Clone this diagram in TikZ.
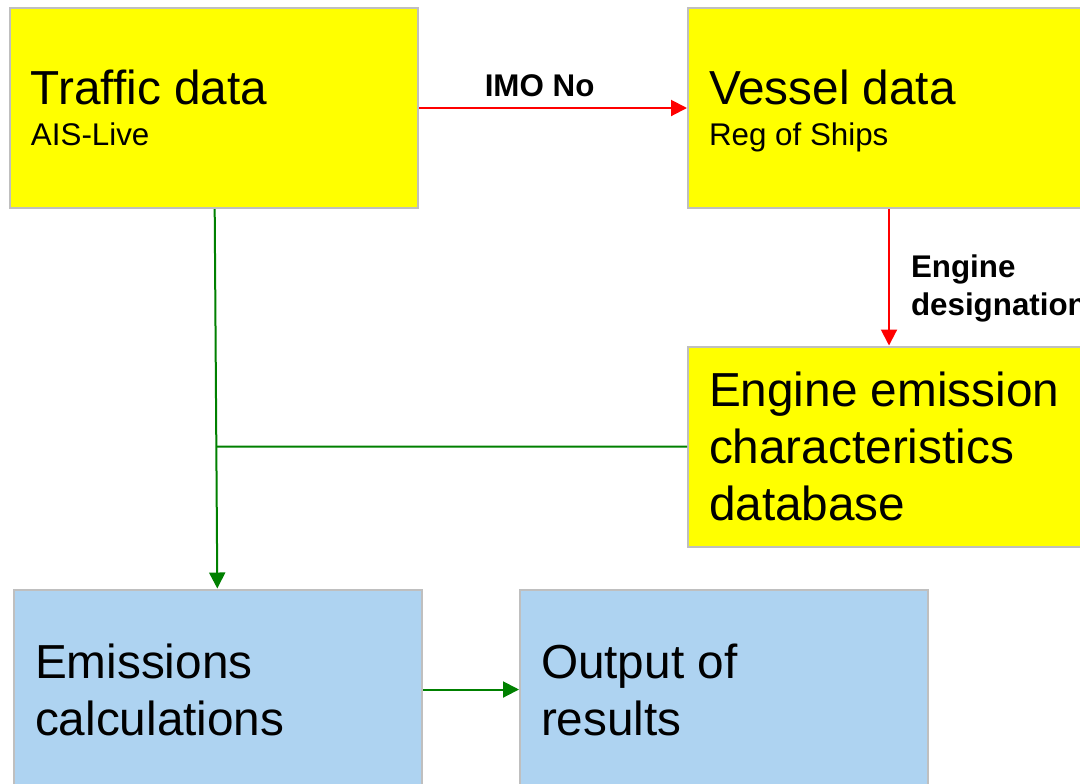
\documentclass[tikz,border=0pt]{standalone}
\usepackage{fontspec}
\setmainfont{Liberation Sans}
\usetikzlibrary{arrows.meta,calc}
\definecolor{box_yellow}{RGB}{255, 255, 0}
\definecolor{box_blue}{RGB}{174, 211, 241}
\definecolor{box_edge}{RGB}{191, 191, 191}
\definecolor{link_red}{RGB}{255, 0, 0}
\definecolor{link_green}{RGB}{0, 128, 0}
\tikzstyle{box}=[rectangle,draw=box_edge,line width=1.5pt,inner xsep=15.75pt,inner ysep=0pt,
  minimum height=150pt,align=flush left,font=\fontsize{35.8}{42.75}\selectfont]
\tikzstyle{yl}=[box,fill=box_yellow,minimum width=301.5pt,text width=270pt]
\tikzstyle{yw}=[box,fill=box_yellow,minimum width=306pt,text width=274.5pt]
\tikzstyle{bl}=[box,fill=box_blue,minimum width=306pt,text width=274.5pt]
\tikzstyle{sub}=[font=\fontsize{23.5}{30.75}\selectfont,text depth=30.75pt]
\tikzstyle{lbl}=[font=\bfseries\fontsize{23.5}{28.5}\selectfont,inner sep=0pt,align=flush left]
\tikzstyle{rl}=[draw=link_red,line width=1.5pt,-{Triangle[length=12pt,width=12pt]}]
\tikzstyle{gl}=[draw=link_green,line width=1.5pt,-{Triangle[length=12pt,width=12pt]}]
\tikzstyle{gp}=[draw=link_green,line width=1.5pt]
\begin{document}
\begin{tikzpicture}[x=0.75pt,y=-0.75pt]
        \useasboundingbox (0,0) rectangle (1080,783);
        \node [style=yw,sub] (traffic) at (214,108) {{\fontsize{35.8}{42}\selectfont Traffic data}\\AIS-Live};
        \node [style=yl,sub] (vessel) at (889,108) {{\fontsize{35.8}{42}\selectfont Vessel data}\\Reg of Ships};
        \node [style=yl] (engine) at (889,446.5) {Engine emission\\characteristics\\database};
        \node [style=bl] (calc) at (218,689.5) {Emissions\\calculations};
        \node [style=bl] (output) at (724,689.5) {Output of\\results};
        \coordinate (join) at ($(traffic.south)!0.626!(calc.north)$);
        \draw [style=rl] (traffic) to node [style=lbl,above=7.5pt,pos=0.45] (imo) {IMO No} (vessel);
        \draw [style=rl] (vessel) to node [style=lbl,right=15.75pt,pos=0.58] (engdes) {Engine\\designation} (engine);
        \draw [style=gl] (traffic) to (calc);
        \draw [style=gp] (engine) to (join);
        \draw [style=gl] (calc) to (output);
    \end{tikzpicture}
\end{document}
